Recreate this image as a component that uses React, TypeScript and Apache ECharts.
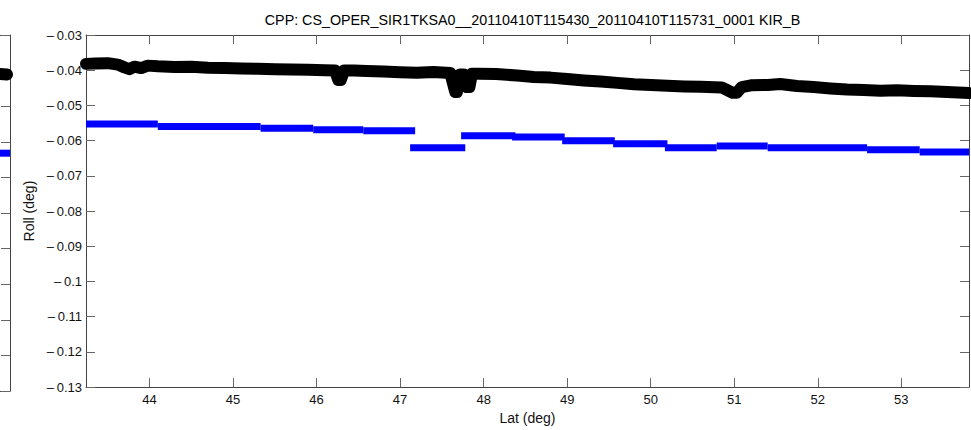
import React, { useEffect, useRef } from "react";
import * as echarts from "echarts";

const titleText = "CPP: CS_OPER_SIR1TKSA0__20110410T115430_20110410T115731_0001 KIR_B";
const xName = "Lat (deg)";
const yName = "Roll (deg)";

const xMin = 43.24;
const xMax = 53.81;
const yMin = -0.13;
const yMax = -0.03;
const xTicks = [44, 45, 46, 47, 48, 49, 50, 51, 52, 53];
const yTicks = [-0.13, -0.12, -0.11, -0.1, -0.09, -0.08, -0.07, -0.06, -0.05, -0.04, -0.03];

// black series (Roll, measured) : [lat, roll]
const blackLat = [
  43.24, 43.35, 43.5, 43.62, 43.7, 43.76, 43.82, 43.9, 43.98, 44.1, 44.3, 44.5, 44.7, 44.9, 45.1, 45.3,
  45.5, 45.7, 45.9, 46.1, 46.22, 46.26, 46.29, 46.33, 46.45, 46.6, 46.8, 47.0, 47.2, 47.4, 47.6, 47.66,
  47.68, 47.72, 47.76, 47.8, 47.83, 47.86, 47.95, 48.15, 48.4, 48.6, 48.8, 49.0, 49.2, 49.4, 49.6, 49.8,
  50.0, 50.2, 50.4, 50.6, 50.85, 50.98, 51.03, 51.09, 51.2, 51.4, 51.55, 51.75, 51.95, 52.15, 52.35,
  52.55, 52.75, 52.95, 53.15, 53.35, 53.55, 53.81,
];
const blackRoll = [
  -0.0382, -0.0381, -0.038, -0.0384, -0.0392, -0.0397, -0.039, -0.0394, -0.0387, -0.0389, -0.0391,
  -0.039, -0.0393, -0.0394, -0.0395, -0.0396, -0.0397, -0.0398, -0.0399, -0.04, -0.0401, -0.0428,
  -0.0428, -0.0401, -0.0401, -0.0402, -0.0404, -0.0406, -0.0407, -0.0405, -0.0408, -0.0462, -0.0462,
  -0.0412, -0.0412, -0.0448, -0.0448, -0.041, -0.041, -0.0411, -0.0415, -0.0419, -0.0421, -0.0425,
  -0.0429, -0.0432, -0.0436, -0.044, -0.0442, -0.0444, -0.0446, -0.0447, -0.0449, -0.0464, -0.0464,
  -0.0448, -0.0443, -0.0442, -0.0439, -0.0445, -0.0448, -0.0452, -0.0455, -0.0456, -0.0458, -0.0457,
  -0.0459, -0.046, -0.0462, -0.0465,
];

// blue series (Roll, predicted) : step segments
const blueStart = [43.24, 44.1, 45.33, 45.96, 46.56, 47.12, 47.73, 48.34, 48.94, 49.55, 50.17, 50.79, 51.4, 52.59, 53.22];
const blueEnd = [44.1, 45.33, 45.96, 46.56, 47.18, 47.78, 48.38, 48.97, 49.57, 50.2, 50.79, 51.4, 52.59, 53.22, 53.81];
const blueRoll = [-0.0553, -0.056, -0.0565, -0.0569, -0.0572, -0.062, -0.0586, -0.059, -0.06, -0.0609, -0.062, -0.0615, -0.062, -0.0626, -0.0632];

// neighbouring (cut-off) panel on the left
const leftBlack = [[96, -0.0409], [107, -0.0411]];
const leftBlue = [[96, -0.0632], [110, -0.0632]];

const FONT = "'Liberation Sans', Arial, Helvetica, sans-serif";
const AXIS = "#444";
const TICK = "#666";

const fmtY = (v: number) => String(parseFloat(v.toFixed(2))).replace("-", "\u2013\u2009");

export default function App() {
  const ref = useRef<HTMLDivElement>(null);
  useEffect(() => {
    if (!ref.current) return;
    const chart = echarts.init(ref.current, null, { renderer: "svg" });

    const blueSeries = blueStart.map((s, i) => ({
      type: "line",
      xAxisIndex: 0,
      yAxisIndex: 0,
      data: [
        [s, blueRoll[i]],
        [blueEnd[i], blueRoll[i]],
      ],
      symbol: "none",
      lineStyle: { color: "#0000ff", width: 7, cap: "butt" },
      clip: false,
      z: 2,
    }));

    const hiddenAxisBase = {
      axisLabel: { show: false },
      splitLine: { show: false },
    };

    chart.setOption({
      animation: false,
      backgroundColor: "#ffffff",
      textStyle: { fontFamily: FONT },
      title: {
        text: titleText,
        left: 527.5,
        textAlign: "center",
        top: 8,
        textStyle: { fontSize: 14.3, fontWeight: "normal", color: "#000", fontFamily: FONT },
      },
      grid: [
        { left: 86, right: 2, top: 35, bottom: 39, containLabel: false },
        { left: 0, width: 10, top: 35, bottom: 39, containLabel: false },
      ],
      xAxis: [
        {
          type: "value",
          gridIndex: 0,
          position: "bottom",
          min: xMin,
          max: xMax,
          name: xName,
          nameLocation: "middle",
          nameGap: 23,
          nameTextStyle: { fontSize: 14, color: "#111", fontFamily: FONT },
          axisLine: { show: true, onZero: false, lineStyle: { color: AXIS, width: 1 } },
          axisTick: { show: true, inside: true, length: 9, lineStyle: { color: TICK }, customValues: xTicks },
          axisLabel: { show: true, fontSize: 13, color: "#111", margin: 6, fontFamily: FONT, customValues: xTicks, formatter: (v: number) => String(Math.round(v)) },
          splitLine: { show: false },
        },
        {
          type: "value",
          gridIndex: 0,
          position: "top",
          min: xMin,
          max: xMax,
          axisLine: { show: true, onZero: false, lineStyle: { color: AXIS, width: 1 } },
          axisTick: { show: true, inside: true, length: 9, lineStyle: { color: TICK }, customValues: xTicks },
          ...hiddenAxisBase,
        },
        {
          type: "value",
          gridIndex: 1,
          position: "bottom",
          min: 100,
          max: 110,
          axisLine: { show: true, onZero: false, lineStyle: { color: AXIS, width: 1 } },
          axisTick: { show: false },
          ...hiddenAxisBase,
        },
        {
          type: "value",
          gridIndex: 1,
          position: "top",
          min: 100,
          max: 110,
          axisLine: { show: true, onZero: false, lineStyle: { color: AXIS, width: 1 } },
          axisTick: { show: false },
          ...hiddenAxisBase,
        },
      ],
      yAxis: [
        {
          type: "value",
          gridIndex: 0,
          position: "left",
          min: yMin,
          max: yMax,
          name: yName,
          nameLocation: "middle",
          nameGap: 48,
          nameRotate: 90,
          nameTextStyle: { fontSize: 14, color: "#111", fontFamily: FONT },
          axisLine: { show: true, onZero: false, lineStyle: { color: AXIS, width: 1 } },
          axisTick: { show: true, inside: true, length: 9, lineStyle: { color: TICK }, customValues: yTicks },
          axisLabel: { show: true, fontSize: 13, color: "#111", margin: 4, fontFamily: FONT, customValues: yTicks, formatter: fmtY },
          splitLine: { show: false },
        },
        {
          type: "value",
          gridIndex: 0,
          position: "right",
          min: yMin,
          max: yMax,
          axisLine: { show: true, onZero: false, lineStyle: { color: AXIS, width: 1 } },
          axisTick: { show: true, inside: true, length: 9, lineStyle: { color: TICK }, customValues: yTicks },
          ...hiddenAxisBase,
        },
        {
          type: "value",
          gridIndex: 1,
          position: "right",
          min: yMin,
          max: yMax,
          axisLine: { show: true, onZero: false, lineStyle: { color: AXIS, width: 1 } },
          axisTick: { show: true, inside: true, length: 9, lineStyle: { color: TICK }, customValues: yTicks },
          ...hiddenAxisBase,
        },
      ],
      series: [
        ...blueSeries,
        {
          type: "line",
          xAxisIndex: 0,
          yAxisIndex: 0,
          data: blackLat.map((x, i) => [x, blackRoll[i]]),
          symbol: "none",
          smooth: false,
          lineStyle: { color: "#000", width: 12, cap: "round", join: "round" },
          clip: false,
          z: 3,
        },
        {
          type: "line",
          xAxisIndex: 2,
          yAxisIndex: 2,
          data: leftBlue,
          symbol: "none",
          lineStyle: { color: "#0000ff", width: 7, cap: "butt" },
          clip: false,
        },
        {
          type: "line",
          xAxisIndex: 2,
          yAxisIndex: 2,
          data: leftBlack,
          symbol: "none",
          lineStyle: { color: "#000", width: 12, cap: "round", join: "round" },
          clip: false,
        },
      ],
    });
    return () => chart.dispose();
  }, []);
  return (
    <div
      ref={ref}
      style={{ position: "fixed", left: 0, top: 0, width: 971, height: 430, background: "#fff" }}
    />
  );
}
